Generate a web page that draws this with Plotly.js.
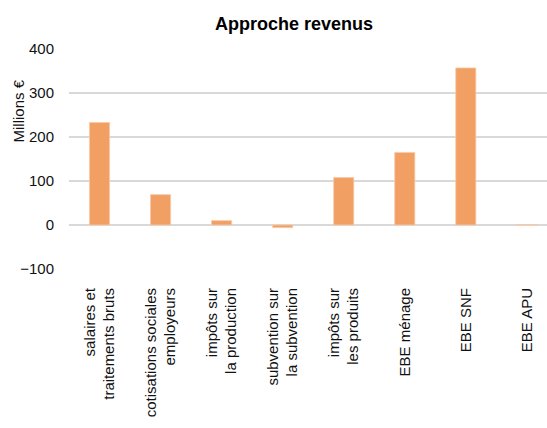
<!DOCTYPE html>
<html>
<head>
<meta charset="utf-8">
<script src="https://cdn.plot.ly/plotly-3.0.1.min.js"></script>
<style>html,body{margin:0;padding:0;background:#fff;}#chart{width:547px;height:428px;}</style>
</head>
<body>
<div id="chart"></div>
<script>
const categories = [
  "salaires et<br>traitements bruts",
  "cotisations sociales<br>employeurs",
  "impôts sur<br>la production",
  "subvention sur<br>la subvention",
  "impôts sur<br>les produits",
  "EBE ménage",
  "EBE SNF",
  "EBE APU"
];
const values = [233, 69, 10, -6, 108, 165, 357, 1];
const yTicks = [-100, 0, 100, 200, 300, 400];

const trace = {
  type: "bar",
  x: categories.map((c, i) => i),
  y: values,
  marker: { color: "#F29F64", line: { color: "#F8CBA8", width: 0.8 } },
  hoverinfo: "skip"
};

const layout = {
  width: 547, height: 428,
  margin: { l: 69, r: 0, t: 49, b: 159 },
  paper_bgcolor: "#fff", plot_bgcolor: "#fff",
  font: { family: "Liberation Sans, Arial, sans-serif", size: 15, color: "#111" },
  title: {
    text: "<b>Approche revenus</b>",
    font: { size: 18, color: "#000" },
    x: 294 / 547, xanchor: "center", xref: "container",
    y: 1 - 24 / 428, yanchor: "middle", yref: "container"
  },
  bargap: 0.67,
  showlegend: false,
  xaxis: {
    range: [-0.5, 7.33],
    tickmode: "array",
    tickvals: categories.map((c, i) => i),
    ticktext: categories,
    tickangle: -90,
    showgrid: false, zeroline: false, showline: false,
    ticks: "",
    ticklabelstandoff: 15,
    tickfont: { size: 15, color: "#111" },
    fixedrange: true
  },
  yaxis: {
    range: [-100, 400],
    tickmode: "array",
    tickvals: yTicks,
    showgrid: true, gridcolor: "#d9d9d9", gridwidth: 1.5,
    zeroline: true, zerolinecolor: "#d9d9d9", zerolinewidth: 2,
    showline: false,
    ticks: "",
    ticklabelstandoff: 14,
    tickfont: { size: 15, color: "#111" },
    fixedrange: true
  },
  annotations: [{
    text: "Millions €",
    textangle: -90,
    xref: "paper", yref: "paper",
    x: (17.5 - 69) / 478, y: (269 - 111) / 220,
    xanchor: "center", yanchor: "middle",
    showarrow: false,
    font: { size: 15, color: "#111" }
  }]
};

Plotly.newPlot("chart", [trace], layout, { staticPlot: true, displayModeBar: false });
</script>
</body>
</html>
